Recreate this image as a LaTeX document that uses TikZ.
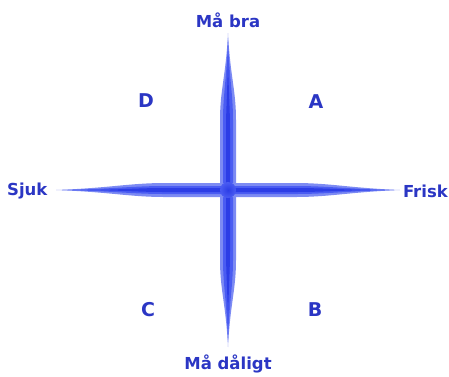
\documentclass[tikz,border=0pt]{standalone}
\usepackage{fontspec}
\setmainfont{DejaVu Sans}
\usepackage{tikz}
\usetikzlibrary{positioning}
\definecolor{Ink}{HTML}{2B36C4}
\definecolor{Glow}{HTML}{7D8BF3}
\definecolor{Bar}{HTML}{4A5CF2}
\definecolor{Core}{HTML}{2C3DE6}

\begin{document}
\begin{tikzpicture}[x=1pt,y=-1pt,
    lbl/.style={text=Ink,font=\bfseries\fontsize{16.5}{18}\selectfont,inner sep=0pt},
    quad/.style={lbl,font=\bfseries\fontsize{19}{21}\selectfont}]
    \useasboundingbox (0,0) rectangle (449,376);
    % vertical bar
    \fill[Glow] (228,33) .. controls (230,75) and (236,90) .. (236,120) -- (236,260)
      .. controls (236,290) and (230,305) .. (228,347) .. controls (226,305) and (220,290) .. (220,260)
      -- (220,120) .. controls (220,90) and (226,75) .. cycle;
    \fill[Bar] (228,40) .. controls (229.5,80) and (233,95) .. (233,120) -- (233,260)
      .. controls (233,285) and (229.5,300) .. (228,340) .. controls (226.5,300) and (223,285) .. (223,260)
      -- (223,120) .. controls (223,95) and (226.5,80) .. cycle;
    \fill[Core] (228,60) .. controls (229,100) and (230,110) .. (230,130) -- (230,250)
      .. controls (230,270) and (229,280) .. (228,320) .. controls (227,280) and (226,270) .. (226,250)
      -- (226,130) .. controls (226,110) and (227,100) .. cycle;
    % horizontal bar
    \fill[Glow] (56,190) .. controls (110,188) and (130,183) .. (165,183) -- (295,183)
      .. controls (330,183) and (350,188) .. (400,190) .. controls (350,192) and (330,197) .. (295,197)
      -- (165,197) .. controls (130,197) and (110,192) .. cycle;
    \fill[Bar] (62,190) .. controls (112,189) and (132,186) .. (165,186) -- (295,186)
      .. controls (328,186) and (348,189) .. (394,190) .. controls (348,191) and (328,194) .. (295,194)
      -- (165,194) .. controls (132,194) and (112,191) .. cycle;
    \fill[Core] (90,190) .. controls (130,189.2) and (140,188) .. (165,188) -- (295,188)
      .. controls (320,188) and (335,189.2) .. (370,190) .. controls (335,190.8) and (320,192) .. (295,192)
      -- (165,192) .. controls (140,192) and (130,190.8) .. cycle;
    % centre
    \shade[inner color=Core,outer color=Bar] (228,190) circle (8);
    % labels
    \node[lbl] (top) at (228,20) {Må bra};
    \node[lbl] (bottom) at (228,364) {Må dåligt};
    \node[lbl,anchor=west] (left) at (7,191) {Sjuk};
    \node[lbl,anchor=east] (right) at (448,191) {Frisk};
    \node[quad] (qd) at (146,101) {D};
    \node[quad] (qa) at (316,102) {A};
    \node[quad] (qc) at (148,310) {C};
    \node[quad] (qb) at (315,310) {B};
  \end{tikzpicture}
\end{document}
